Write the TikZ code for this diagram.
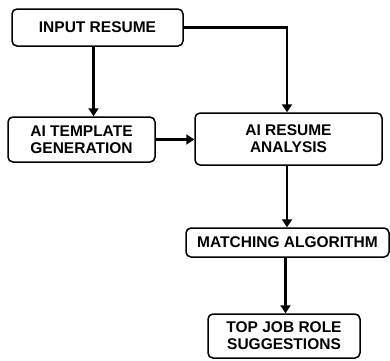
\documentclass[tikz,border=0pt]{standalone}
\usepackage{fontspec}
\setmainfont{Liberation Sans}
\usetikzlibrary{arrows.meta}

\begin{document}
\begin{tikzpicture}[x=1pt, y=-1pt,
    box/.style={rectangle, draw, rounded corners=5pt, line width=1.5pt, align=center, inner sep=0pt,
        font=\bfseries\fontsize{15.5}{17}\selectfont},
    arr/.style={-{Triangle[length=8pt, width=10pt]}, line width=2.1pt}]
    \useasboundingbox (0,0) rectangle (390,360);

    \node[box, minimum width=171pt, minimum height=37pt] (input) at (97.5,27.5) {INPUT RESUME};
    \node[box, minimum width=147pt, minimum height=45pt] (tmpl) at (81.5,139.5) {AI TEMPLATE\\GENERATION};
    \node[box, minimum width=187pt, minimum height=52pt] (analysis) at (288.5,139) {AI RESUME\\ANALYSIS};
    \node[box, minimum width=203pt, minimum height=29pt] (match) at (287.5,242.5) {MATCHING ALGORITHM};
    \node[box, minimum width=152pt, minimum height=44pt] (top) at (284,336) {TOP JOB ROLE\\SUGGESTIONS};

    \draw[arr] ([xshift=-4pt]input.south) -- ([xshift=-4pt]input.south |- tmpl.north);
    \draw[arr] (input.east) -| ([xshift=-1.5pt]analysis.north);
    \draw[arr] (tmpl.east) -- (tmpl.east -| analysis.west);
    \draw[arr] ([xshift=-1.5pt]analysis.south) -- ([xshift=-1.5pt]analysis.south |- match.north);
    \draw[arr] ([xshift=-2pt]match.south) -- ([xshift=-2pt]match.south |- top.north);
\end{tikzpicture}
\end{document}
